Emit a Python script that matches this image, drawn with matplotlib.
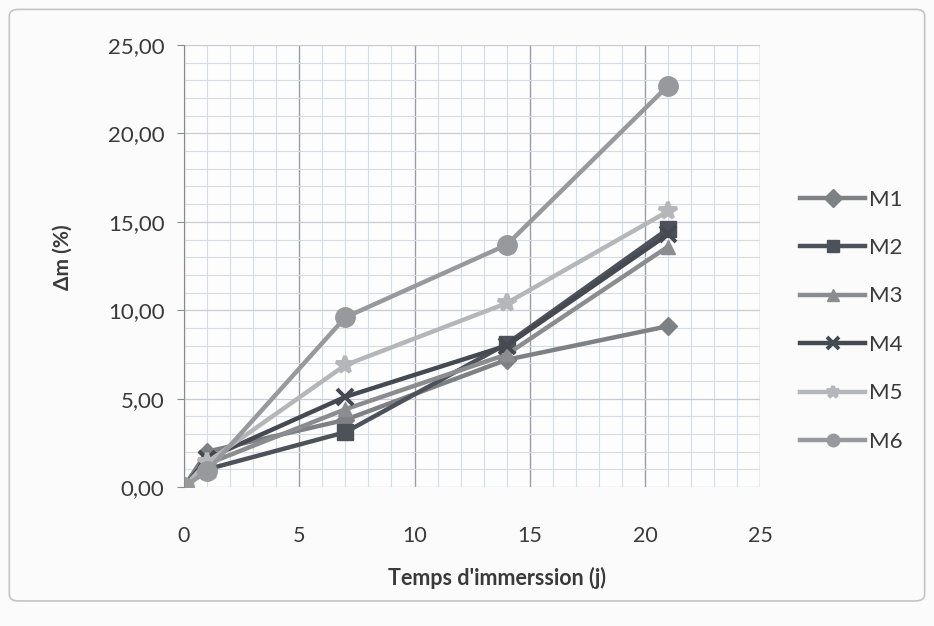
import numpy as np
from matplotlib import pyplot as plt
from matplotlib.patches import FancyBboxPatch
from matplotlib.ticker import MultipleLocator, FuncFormatter

# immersion time (days)
days = [0, 1, 7, 14, 21]

# mass gain (%) per mix
m1 = [0.0, 2.0, 3.8, 7.2, 9.1]
m2 = [0.0, 1.0, 3.1, 8.1, 14.6]
m3 = [0.0, 1.3, 4.4, 7.5, 13.6]
m4 = [0.0, 1.6, 5.1, 8.0, 14.3]
m5 = [0.0, 1.4, 6.9, 10.4, 15.6]
m6 = [0.0, 0.9, 9.6, 13.7, 22.7]

labels = ['M1', 'M2', 'M3', 'M4', 'M5', 'M6']
colors = ['#7e8184', '#4d525a', '#8a8c8f', '#454a52', '#b4b6b9', '#97999c']
markers = ['D', 's', '^', 'x', '*', 'o']
msizes = [9, 11, 10, 11, 13, 14]

plt.rcParams['font.family'] = ['Lato', 'DejaVu Sans']

fig = plt.figure(figsize=(9.34, 6.26), dpi=100)
fig.patch.set_facecolor('#fbfbfb')
ax = fig.add_axes([0.197, 0.222, 0.617, 0.706])
ax.set_facecolor('#fdfdfe')

# outer chart frame
fig.patches.append(FancyBboxPatch((0.01, 0.04), 0.98, 0.945, transform=fig.transFigure,
                                  boxstyle='round,pad=0,rounding_size=0.01',
                                  fc='none', ec='#c4c4c4', lw=1.2))

series = [m1, m2, m3, m4, m5, m6]
for y, lab, c, mk, ms in zip(series, labels, colors, markers, msizes):
    ax.plot(days, y, color=c, lw=3.2, marker=mk, ms=ms, mew=2.8 if mk in 'x*' else 1,
            mec=c, mfc=c, label=lab)

ax.set_xlim(0, 25)
ax.set_ylim(0, 25)
ax.xaxis.set_major_locator(MultipleLocator(5))
ax.yaxis.set_major_locator(MultipleLocator(5))
ax.xaxis.set_minor_locator(MultipleLocator(1))
ax.yaxis.set_minor_locator(MultipleLocator(1))
ax.yaxis.set_major_formatter(FuncFormatter(lambda v, p: f'{v:.2f}'.replace('.', ',')))

ax.grid(which='minor', color='#d6dce4', lw=0.8)
ax.grid(which='major', axis='y', color='#c6ccd4', lw=0.9)
ax.grid(which='major', axis='x', color='#9a9ea4', lw=1.0)
ax.set_axisbelow(True)

for s in ['top', 'right', 'bottom']:
    ax.spines[s].set_visible(False)
ax.spines['left'].set_color('#8c8c8c')
ax.tick_params(which='minor', length=0)
ax.tick_params(axis='y', which='major', length=5, color='#8c8c8c', labelsize=16,
               labelcolor='#3a3a3a', pad=9)
ax.tick_params(axis='x', which='major', length=0, labelsize=15.5, labelcolor='#3a3a3a', pad=28)

ax.set_xlabel("Temps d'immerssion (j)", fontsize=15.5, fontweight='bold', color='#3a3a3a')
ax.xaxis.set_label_coords(0.543, -0.205)
ax.xaxis.label.set_va('center')
ax.set_ylabel('Δm (%)', fontsize=15, fontweight='bold', color='#3a3a3a')
ax.yaxis.set_label_coords(-0.21, 0.52)
ax.yaxis.label.set_va('center')

leg = ax.legend(loc='upper left', bbox_to_anchor=(0.845, 0.715), bbox_transform=fig.transFigure,
                frameon=False, fontsize=16, handlelength=2.9, labelspacing=1.28,
                handletextpad=0.2, borderpad=0, labelcolor='#3a3a3a')
for h in leg.legend_handles:
    h.set_markersize(9)

fig.savefig('out.png', dpi=100, facecolor=fig.get_facecolor())
